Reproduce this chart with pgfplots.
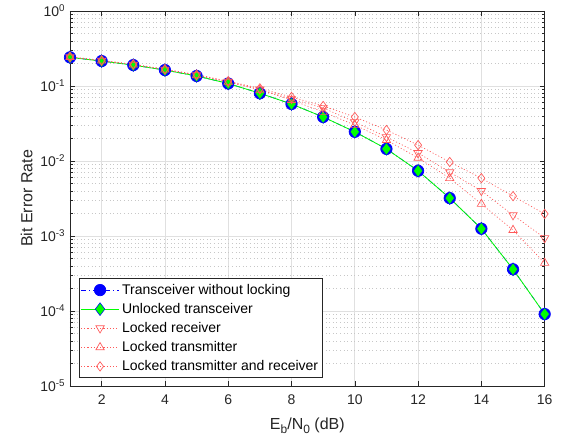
\documentclass[border=0pt]{standalone}
\usepackage{pgfplots}
\pgfplotsset{compat=1.18}
\usepackage{fontspec}
\setmainfont{Liberation Sans}
\definecolor{axgray}{rgb}{0.15,0.15,0.15}
\definecolor{lred}{rgb}{1,0.35,0.35}
\newcommand{\sub}[1]{\raisebox{-0.45ex}{\fontsize{9}{10}\selectfont #1}}

\begin{document}
\begin{tikzpicture}
\begin{axis}[
  at={(0,0)}, anchor=south west,
  scale only axis,
  width=356pt, height=281.25pt,
  ymode=log,
  xmin=1, xmax=16,
  ymin=1e-5, ymax=1,
  xtick={2,4,...,16},
  ytick={1e-5,1e-4,1e-3,1e-2,1e-1,1},
  yticklabels={10\textsuperscript{-5},10\textsuperscript{-4},10\textsuperscript{-3},10\textsuperscript{-2},10\textsuperscript{-1},10\textsuperscript{0}},
  minor x tick num=0,
  xmajorgrids, ymajorgrids, yminorgrids,
  major grid style={black!12, line width=0.5pt},
  minor grid style={black!22, dash pattern=on 0.7pt off 2pt, line width=0.4pt},
  tick align=inside,
  major tick length=3.5pt, minor tick length=2pt,
  every tick/.style={axgray, line width=0.4pt},
  axis line style={axgray, line width=0.5pt},
  font=\fontsize{10.5}{12.6}\selectfont,
  ticklabel style={text=axgray},
  xticklabel style={yshift=-3pt},
  /pgf/number format/assume math mode=true,
  xlabel={E\sub{b}/N\sub{0} (dB)},
  ylabel={Bit Error Rate},
  label style={text=axgray, font=\fontsize{12}{14}\selectfont},
  xlabel style={yshift=-3pt},
  ylabel style={yshift=-1pt},
  legend cell align=left,
  legend style={at={(0.019,0.021)}, anchor=south west, draw=axgray,
    fill=white, line width=0.5pt, font=\fontsize{10.5}{12.6}\selectfont,
    row sep=1.2pt, inner xsep=1pt, inner ysep=2pt, text=black},
  legend image code/.code={
    \draw[mark repeat=2, mark phase=2, #1] plot coordinates {(0cm,0cm) (0.5cm,0cm) (1.0cm,0cm)};},
]

% Transceiver without locking
\addplot[blue, line width=0.5pt, dash pattern=on 4pt off 2pt on 1pt off 2pt,
  mark=*, mark size=4.3pt, mark options={solid, fill=blue, draw=blue}]
  coordinates {
  (1,0.241) (2,0.215) (3,0.190) (4,0.163) (5,0.136) (6,0.108) (7,0.080) (8,0.0575)
  (9,0.0386) (10,0.0245) (11,0.0145) (12,0.0074) (13,0.0032) (14,0.00125)
  (15,0.00036) (16,0.000091)};
\addlegendentry{Transceiver without locking}

% Unlocked transceiver
\addplot[green, line width=0.6pt,
  mark=diamond*, mark size=4.8pt, mark options={solid, fill=green, draw=blue, line width=0.4pt}]
  coordinates {
  (1,0.241) (2,0.215) (3,0.190) (4,0.163) (5,0.136) (6,0.108) (7,0.080) (8,0.0575)
  (9,0.0386) (10,0.0245) (11,0.0145) (12,0.0074) (13,0.0032) (14,0.00125)
  (15,0.00036) (16,0.000091)};
\addlegendentry{Unlocked transceiver}

% Locked receiver
\addplot[lred, line width=0.5pt, dash pattern=on 0.8pt off 1.6pt,
  mark=triangle, mark size=3.6pt, mark options={solid, rotate=180}]
  coordinates {
  (1,0.243) (2,0.218) (3,0.193) (4,0.166) (5,0.140) (6,0.114) (7,0.090) (8,0.0671)
  (9,0.0509) (10,0.0331) (11,0.0209) (12,0.0128) (13,0.0071) (14,0.0040)
  (15,0.0019) (16,0.00094)};
\addlegendentry{Locked receiver}

% Locked transmitter
\addplot[lred, line width=0.5pt, dash pattern=on 0.8pt off 1.6pt,
  mark=triangle, mark size=3.6pt, mark options={solid}]
  coordinates {
  (1,0.243) (2,0.217) (3,0.192) (4,0.165) (5,0.139) (6,0.113) (7,0.089) (8,0.065)
  (9,0.045) (10,0.0302) (11,0.019) (12,0.011) (13,0.0059) (14,0.00267)
  (15,0.0012) (16,0.000437)};
\addlegendentry{Locked transmitter}

% Locked transmitter and receiver
\addplot[lred, line width=0.5pt, dash pattern=on 0.8pt off 1.6pt,
  mark=diamond, mark size=3.5pt, mark options={solid}]
  coordinates {
  (1,0.245) (2,0.220) (3,0.195) (4,0.168) (5,0.142) (6,0.116) (7,0.093) (8,0.0713)
  (9,0.0541) (10,0.0386) (11,0.0259) (12,0.0163) (13,0.0097) (14,0.0059)
  (15,0.0034) (16,0.00197)};
\addlegendentry{Locked transmitter and receiver}

\end{axis}
\pgfresetboundingbox
\path (-52.5pt,-41.25pt) rectangle (373.5pt,289.5pt);
\end{tikzpicture}
\end{document}
